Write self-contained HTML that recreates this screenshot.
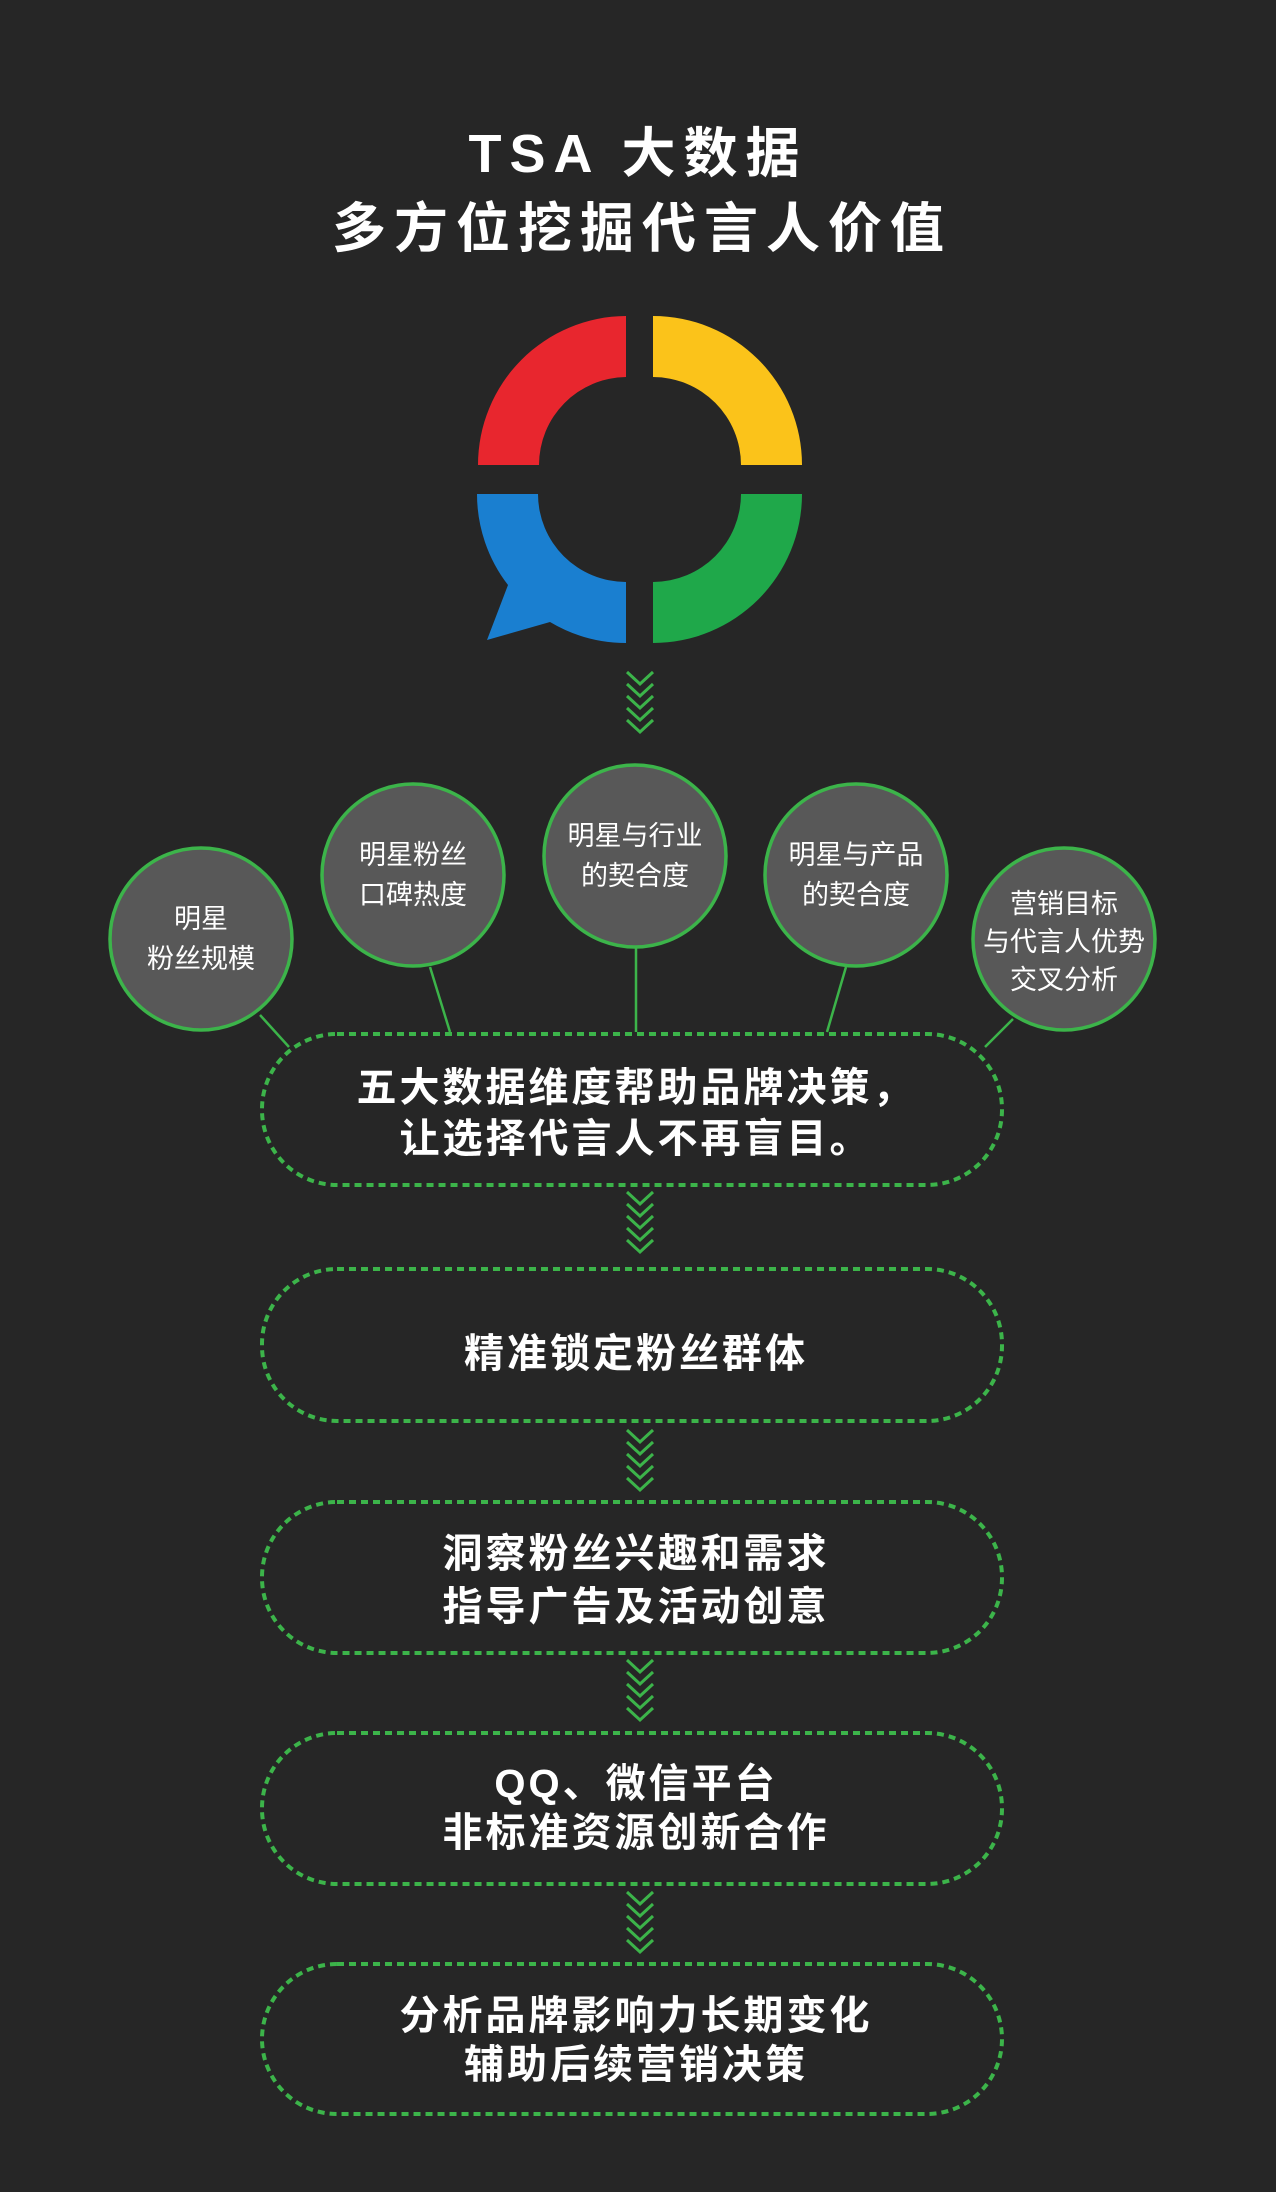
<!DOCTYPE html>
<html><head><meta charset="utf-8"><style>
html,body{margin:0;padding:0;background:#262626;}
body{width:1276px;height:2192px;overflow:hidden;position:relative;}
svg{position:absolute;left:0;top:0;}
text{font-family:"Liberation Sans","Noto Sans CJK SC",sans-serif;fill:#fff;}
.t{font-weight:bold;font-size:54px;letter-spacing:8px;}
.c{font-size:27px;}
.b{font-weight:bold;font-size:40px;letter-spacing:3px;}
</style></head><body>
<svg width="1276" height="2192" viewBox="0 0 1276 2192">
<rect width="1276" height="2192" fill="#262626"/>
<text class="t" x="638" y="172" text-anchor="middle">TSA 大数据</text>
<text class="t" x="642" y="247" text-anchor="middle">多方位挖掘代言人价值</text>
<path d="M478,465 A149 149 0 0 1 626,316 L626,377 A88 88 0 0 0 539,465 Z" fill="#e8262e"/>
<path d="M653,316 A149 149 0 0 1 802,465 L741,465 A88 88 0 0 0 653,377 Z" fill="#fbc31a"/>
<path d="M802,494 A149 149 0 0 1 653,643 L653,582 A88 88 0 0 0 741,494 Z" fill="#1fa84a"/>
<path d="M477,494 L538,494 A88 88 0 0 0 626,582 L626,643 A149 149 0 0 1 550,622 L487,640 L508,585 A149 149 0 0 1 477,494 Z" fill="#1a7fd0"/>
<g fill="none" stroke="#3cb44a" stroke-width="3">
<path id="chev" d="M627,672 l13,12 l13,-12 M627,684 l13,12 l13,-12 M627,696 l13,12 l13,-12 M627,708 l13,12 l13,-12 M627,720 l13,12 l13,-12"/>
<use href="#chev" transform="translate(0,520)"/>
<use href="#chev" transform="translate(0,758)"/>
<use href="#chev" transform="translate(0,988)"/>
<use href="#chev" transform="translate(0,1220)"/>
</g>
<g stroke="#3cb44a" stroke-width="2.5">
<line x1="260" y1="1015" x2="289" y2="1047"/>
<line x1="430" y1="967" x2="450" y2="1032"/>
<line x1="636" y1="947" x2="636" y2="1032"/>
<line x1="846" y1="967" x2="827" y2="1032"/>
<line x1="1013" y1="1019" x2="985" y2="1047"/>
</g>
<g fill="#585858" stroke="#3cb44a" stroke-width="3.5">
<circle cx="201" cy="939" r="91"/>
<circle cx="413" cy="875" r="91"/>
<circle cx="635" cy="856" r="91"/>
<circle cx="856" cy="875" r="91"/>
<circle cx="1064" cy="939" r="91"/>
</g>
<g class="c" text-anchor="middle">
<text class="c" x="201" y="928">明星</text><text class="c" x="201" y="968">粉丝规模</text>
<text class="c" x="413" y="864">明星粉丝</text><text class="c" x="413" y="904">口碑热度</text>
<text class="c" x="635" y="845">明星与行业</text><text class="c" x="635" y="885">的契合度</text>
<text class="c" x="856" y="864">明星与产品</text><text class="c" x="856" y="904">的契合度</text>
<text class="c" x="1064" y="913">营销目标</text><text class="c" x="1064" y="951">与代言人优势</text><text class="c" x="1064" y="989">交叉分析</text>
</g>
<g fill="#262626" stroke="#3cb44a" stroke-width="4" stroke-dasharray="7 5">
<rect x="262" y="1034" width="740" height="151" rx="75"/>
<rect x="262" y="1269" width="740" height="152" rx="75"/>
<rect x="262" y="1502" width="740" height="151" rx="75"/>
<rect x="262" y="1733" width="740" height="151" rx="75"/>
<rect x="262" y="1964" width="740" height="150" rx="75"/>
</g>
<g text-anchor="middle">
<text class="b" x="636" y="1101">五大数据维度帮助品牌决策，</text>
<text class="b" x="636" y="1152">让选择代言人不再盲目。</text>
<text class="b" x="636" y="1367">精准锁定粉丝群体</text>
<text class="b" x="636" y="1567">洞察粉丝兴趣和需求</text>
<text class="b" x="636" y="1620">指导广告及活动创意</text>
<text class="b" x="636" y="1797">QQ、微信平台</text>
<text class="b" x="636" y="1846">非标准资源创新合作</text>
<text class="b" x="636" y="2029">分析品牌影响力长期变化</text>
<text class="b" x="636" y="2078">辅助后续营销决策</text>
</g>
</svg>
</body></html>
